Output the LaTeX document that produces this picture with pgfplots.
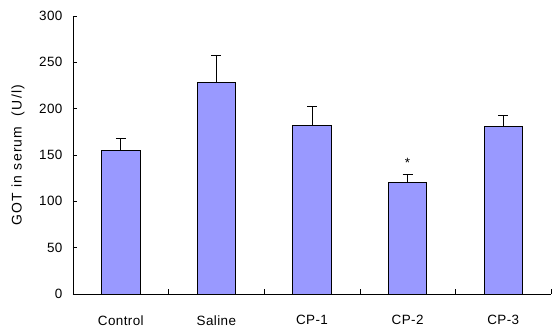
\documentclass[border=0pt]{standalone}
\usepackage{pgfplots}
\pgfplotsset{compat=1.18}
\usepackage{fontspec}
\setmainfont{Liberation Sans}
\definecolor{barblue}{HTML}{9999FF}
\begin{document}
\begin{tikzpicture}[x=1bp,y=1bp]
\useasboundingbox (-73bp,-37bp) rectangle (479bp,294bp);
\begin{axis}[
  at={(0,0)}, anchor=south west,
  scale only axis,
  width=478bp, height=278bp,
  xmin=-0.5, xmax=4.5,
  ymin=0, ymax=300,
  ytick={0,50,...,300},
  xtick={0,1,2,3,4},
  xticklabels={Control,Saline,CP-1,CP-2,CP-3},
  minor xtick={0.5,1.5,2.5,3.5,4.5},
  major x tick style={draw=none},
  minor tick length=5bp,
  major tick length=4bp,
  tick align=inside,
  axis lines*=left,
  axis line style={black, line width=0.8pt},
  tick style={black, line width=0.6pt},
  ticklabel style={font=\fontsize{13.5}{15}\selectfont\addfontfeature{LetterSpace=3}},
  /pgf/number format/assume math mode=true,
  yticklabel style={xshift=-7bp},
  xticklabel style={yshift=-18bp},
  ylabel={GOT in serum\ \ (U/l)},
  ylabel style={font=\fontsize{14}{15}\selectfont\addfontfeature{LetterSpace=9}, yshift=8bp},
  clip=false,
]
\addplot[ybar, bar width=0.4, fill=barblue, draw=black, line width=0.8pt,
  error bars/.cd, y dir=plus, y explicit,
  error bar style={black, line width=0.8pt},
  error mark options={black, line width=0.8pt, mark size=5bp, rotate=90}]
  table[x=x, y=y, y error=e] {
x y e
0 155 12.5
1 228 30
2 182.3 20
3 120 9
4 180.5 12.5
};
\node[font=\fontsize{13.5}{15}\selectfont] at (axis cs:3,141) {*};
\end{axis}
\end{tikzpicture}
\end{document}
